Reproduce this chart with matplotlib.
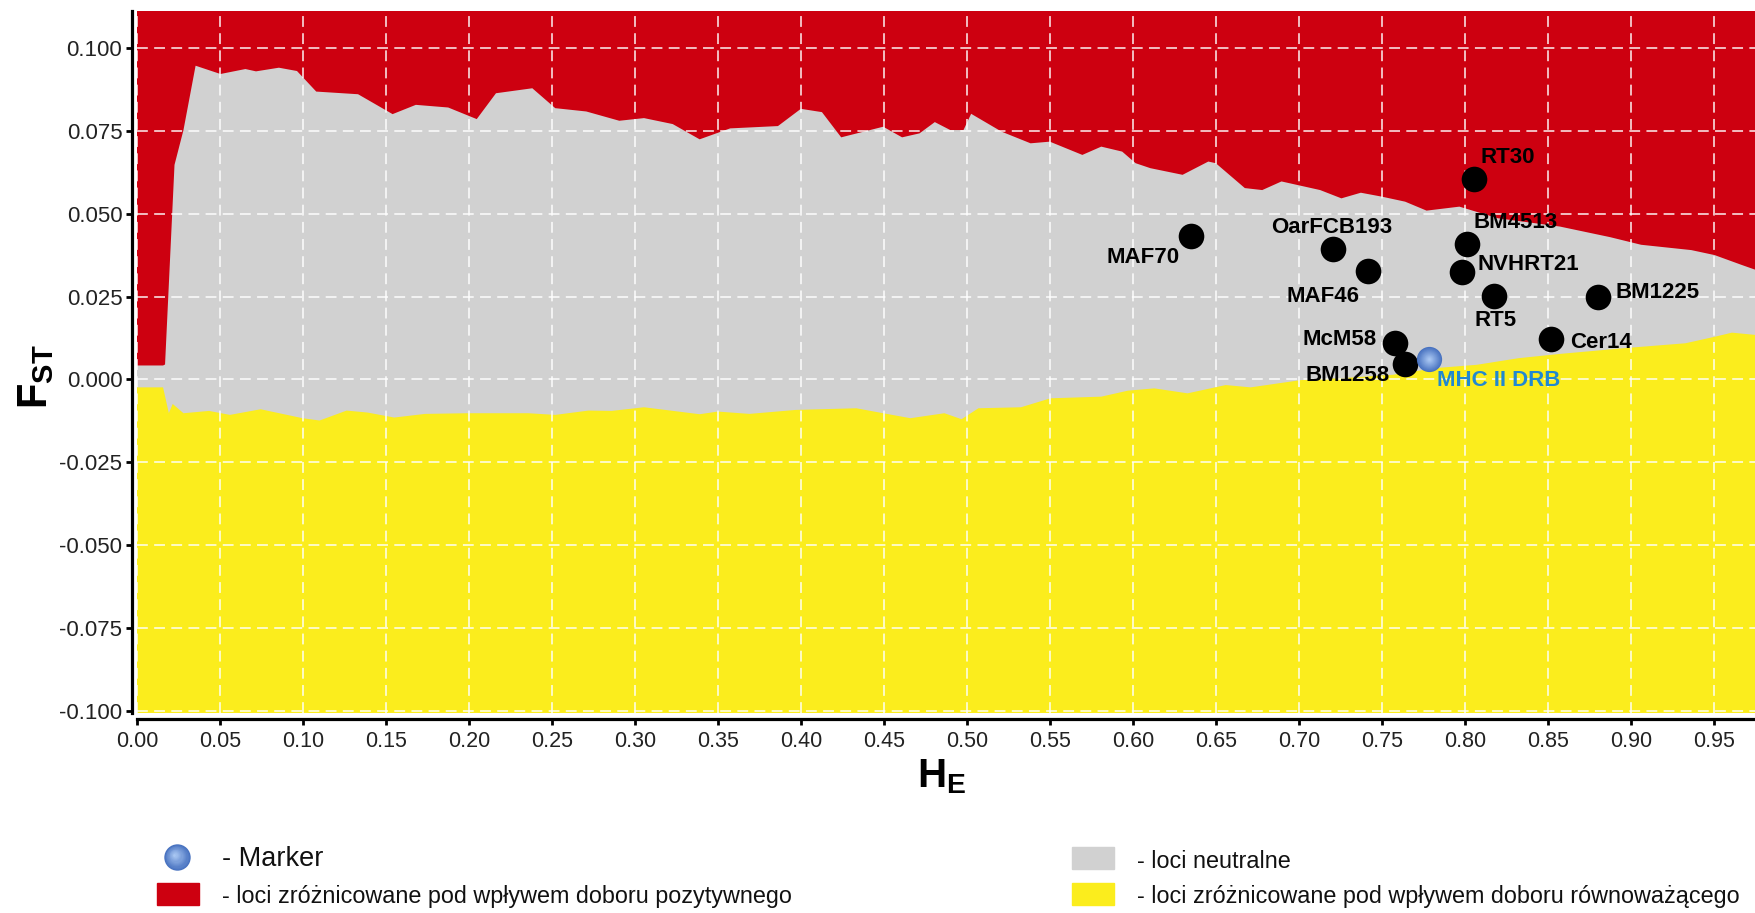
import matplotlib
matplotlib.use("Agg")
import matplotlib.pyplot as plt
from matplotlib.patches import Rectangle
from matplotlib.lines import Line2D
from matplotlib.colors import to_rgb
import numpy as np

plt.rcParams['font.family'] = ['Liberation Sans', 'DejaVu Sans']
plt.rcParams['axes.unicode_minus'] = False
plt.rcParams['mathtext.fontset'] = 'custom'
plt.rcParams['mathtext.rm'] = 'Liberation Sans'
plt.rcParams['mathtext.bf'] = 'Liberation Sans:bold'

# ---- data ----
he_upper = [0.000, 0.0157, 0.0169, 0.0226, 0.028, 0.0353, 0.0503, 0.0653, 0.0717, 0.0855,
            0.0964, 0.108, 0.1332, 0.154, 0.168, 0.1875, 0.2047, 0.2163, 0.2382, 0.252,
            0.2707, 0.2906, 0.3055, 0.3228, 0.339, 0.3574, 0.3862, 0.400, 0.4127, 0.4243,
            0.4496, 0.461, 0.4715, 0.4807, 0.490, 0.498, 0.5026, 0.521, 0.5384, 0.550,
            0.5696, 0.581, 0.5936, 0.6017, 0.6106, 0.630, 0.6455, 0.650, 0.6675, 0.678,
            0.6896, 0.7129, 0.7257, 0.7374, 0.7502, 0.7641, 0.777, 0.7968, 0.820, 0.8573,
            0.8876, 0.9063, 0.9365, 0.9505, 0.967, 0.9755]
fst_upper = [0.0042, 0.0042, 0.0045, 0.0647, 0.0752, 0.0946, 0.0921, 0.0936, 0.0929, 0.0940,
             0.0930, 0.0868, 0.0860, 0.0800, 0.0828, 0.0820, 0.0785, 0.0863, 0.0878, 0.0818,
             0.0808, 0.0780, 0.0788, 0.0770, 0.0724, 0.0757, 0.0764, 0.0816, 0.0806, 0.0730,
             0.0762, 0.0730, 0.0742, 0.0776, 0.0752, 0.0752, 0.0801, 0.0747, 0.0712, 0.0717,
             0.0677, 0.0702, 0.0687, 0.0652, 0.0637, 0.0617, 0.0657, 0.0652, 0.0577, 0.0571,
             0.0597, 0.0571, 0.0546, 0.0563, 0.0551, 0.0536, 0.0509, 0.0521, 0.0486, 0.0461,
             0.0429, 0.0406, 0.0390, 0.0375, 0.0345, 0.0330]

he_lower = [0.000, 0.0157, 0.0192, 0.0215, 0.028, 0.0434, 0.056, 0.0745, 0.0998, 0.110,
            0.1263, 0.139, 0.155, 0.1736, 0.199, 0.2358, 0.252, 0.272, 0.286, 0.3055,
            0.339, 0.350, 0.369, 0.397, 0.4334, 0.4496, 0.466, 0.4865, 0.4968, 0.507,
            0.5326, 0.5504, 0.581, 0.597, 0.613, 0.633, 0.656, 0.671, 0.7013, 0.7265,
            0.7568, 0.782, 0.8072, 0.8324, 0.8576, 0.8955, 0.933, 0.951, 0.961, 0.9755]
fst_lower = [-0.0024, -0.0024, -0.0102, -0.0074, -0.0102, -0.0095, -0.0107, -0.0090, -0.0117, -0.0124,
             -0.0094, -0.0100, -0.0115, -0.0104, -0.0102, -0.0102, -0.0107, -0.0094, -0.0095, -0.0084,
             -0.0105, -0.0097, -0.0104, -0.0092, -0.0087, -0.0102, -0.0117, -0.0102, -0.0120, -0.0087,
             -0.0084, -0.0057, -0.0052, -0.0034, -0.0027, -0.0042, -0.0017, -0.0024, -0.0002, 0.0004,
             0.0014, 0.0034, 0.0044, 0.0064, 0.0077, 0.0094, 0.0109, 0.0129, 0.0141, 0.0134]

loci_names = ['MAF70', 'OarFCB193', 'MAF46', 'RT30', 'BM4513', 'NVHRT21',
              'RT5', 'BM1225', 'Cer14', 'McM58', 'BM1258']
loci_he = [0.635, 0.7207, 0.7416, 0.8057, 0.8016, 0.7982, 0.8178, 0.8806, 0.8522, 0.7578, 0.7638]
loci_fst = [0.0432, 0.0392, 0.0328, 0.0605, 0.0409, 0.0324, 0.0253, 0.0250, 0.0122, 0.0111, 0.0047]

marker_name = 'MHC II DRB'
marker_he = 0.7787
marker_fst = 0.0061

x_ticks = [round(0.05 * i, 2) for i in range(20)]
y_ticks = [-0.100, -0.075, -0.050, -0.025, 0.000, 0.025, 0.050, 0.075, 0.100]

legend_labels = ['- Marker',
                 '- loci zróżnicowane pod wpływem doboru pozytywnego',
                 '- loci neutralne',
                 '- loci zróżnicowane pod wpływem doboru równoważącego']

# ---- style ----
RED = '#cd0010'
GRAY = '#d1d1d1'
YELLOW = '#fbed1d'
BLUE_TXT = '#2188d0'
SPH_DARK = np.array(to_rgb('#4872c0'))
SPH_LIGHT = np.array(to_rgb('#a8c6f2'))
N_LAYERS = 12

W, H = 1756, 913
fig = plt.figure(figsize=(W / 100, H / 100), dpi=100)
fig.patch.set_facecolor('white')

ax = fig.add_axes([137 / W, 1 - 713 / H, (W - 137) / W, (713 - 11) / H])
xmin, xmax = 0.0, 0.9755
ymin, ymax = -0.1006, 0.1111
ax.set_xlim(xmin, xmax)
ax.set_ylim(ymin, ymax)

ax.set_facecolor(RED)
ax.fill_between(he_upper, ymin - 1, fst_upper, color=GRAY, lw=0, zorder=1)
ax.fill_between(he_lower, ymin - 1, fst_lower, color=YELLOW, lw=0, zorder=1.1)

ax.set_axisbelow(False)
ax.grid(True, color='white', alpha=0.8, lw=1.3, ls=(0, (6, 3.5)))

ax.scatter(loci_he, loci_fst, s=340, color='black', zorder=4, linewidths=0)

# blue sphere marker: concentric layers, lighter toward a slightly upper-left centre
for i in range(N_LAYERS):
    t = i / (N_LAYERS - 1)
    col = SPH_DARK * (1 - t) + SPH_LIGHT * t
    size = 330 * (1 - 0.9 * t) ** 2
    ax.scatter([marker_he], [marker_fst], s=size, color=col, zorder=5 + 0.01 * i, linewidths=0)

label_offsets = {
    'MAF70': (-48, -21), 'OarFCB193': (-1, 22), 'MAF46': (-45, -26), 'RT30': (34, 21),
    'BM4513': (48, 21), 'NVHRT21': (67, 7), 'RT5': (1, -25), 'BM1225': (59, 4),
    'Cer14': (50, -4), 'McM58': (-55, 3), 'BM1258': (-57, -12),
}
for name, hx, fy in zip(loci_names, loci_he, loci_fst):
    dx, dy = label_offsets[name]
    ax.annotate(name, (hx, fy), xytext=(dx, dy), textcoords='offset pixels',
                ha='center', va='center', fontsize=16, fontweight='bold', color='black', zorder=6)
ax.annotate(marker_name, (marker_he, marker_fst), xytext=(69, -21), textcoords='offset pixels',
            ha='center', va='center', fontsize=16, fontweight='bold', color=BLUE_TXT, zorder=6)

# axes
for s in ['top', 'right']:
    ax.spines[s].set_visible(False)
ax.spines['left'].set_position(('outward', 3.6))
ax.spines['bottom'].set_position(('outward', 4.3))
for s in ['left', 'bottom']:
    ax.spines[s].set_linewidth(2.3)
    ax.spines[s].set_color('black')
ax.set_xticks(x_ticks)
ax.set_xticklabels([f'{v:.2f}' for v in x_ticks])
ax.set_yticks(y_ticks)
ax.set_yticklabels([f'{v:.3f}' for v in y_ticks])
ax.tick_params(axis='both', direction='out', length=4, width=2, color='black', labelcolor='#222222')
ax.tick_params(axis='y', labelsize=16, pad=3)
ax.tick_params(axis='x', labelsize=15.5, pad=5)

fig.text(36 / W, 1 - 377 / H, r'$\mathbf{F_{ST}}$', rotation=90, ha='center', va='center',
         fontsize=30)
fig.text(942 / W, 1 - 787 / H, r'$\mathbf{H_{E}}$', ha='center', va='baseline', fontsize=29)

# legend
for i in range(N_LAYERS):
    t = i / (N_LAYERS - 1)
    col = SPH_DARK * (1 - t) + SPH_LIGHT * t
    fig.add_artist(Line2D([(177 - 2.5 * t) / W], [1 - (857 - 2.5 * t) / H], marker='o',
                          markersize=19 * (1 - 0.9 * t), color=col, markeredgewidth=0,
                          transform=fig.transFigure))
fig.text(222 / W, 1 - 859 / H, legend_labels[0], ha='left', va='center', fontsize=19.5, color='#111111')

sq_w, sq_h = 42 / W, 22 / H
fig.add_artist(Rectangle((157 / W, 1 - 905 / H), sq_w, sq_h, color=RED, transform=fig.transFigure))
fig.text(222 / W, 1 - 896 / H, legend_labels[1], ha='left', va='center', fontsize=16.8, color='#111111')
fig.add_artist(Rectangle((1072 / W, 1 - 869 / H), sq_w, sq_h, color=GRAY, transform=fig.transFigure))
fig.text(1137 / W, 1 - 861 / H, legend_labels[2], ha='left', va='center', fontsize=16.8, color='#111111')
fig.add_artist(Rectangle((1072 / W, 1 - 905 / H), sq_w, sq_h, color=YELLOW, transform=fig.transFigure))
fig.text(1137 / W, 1 - 896 / H, legend_labels[3], ha='left', va='center', fontsize=16.8, color='#111111')

fig.savefig('out.png', dpi=100, facecolor='white')
